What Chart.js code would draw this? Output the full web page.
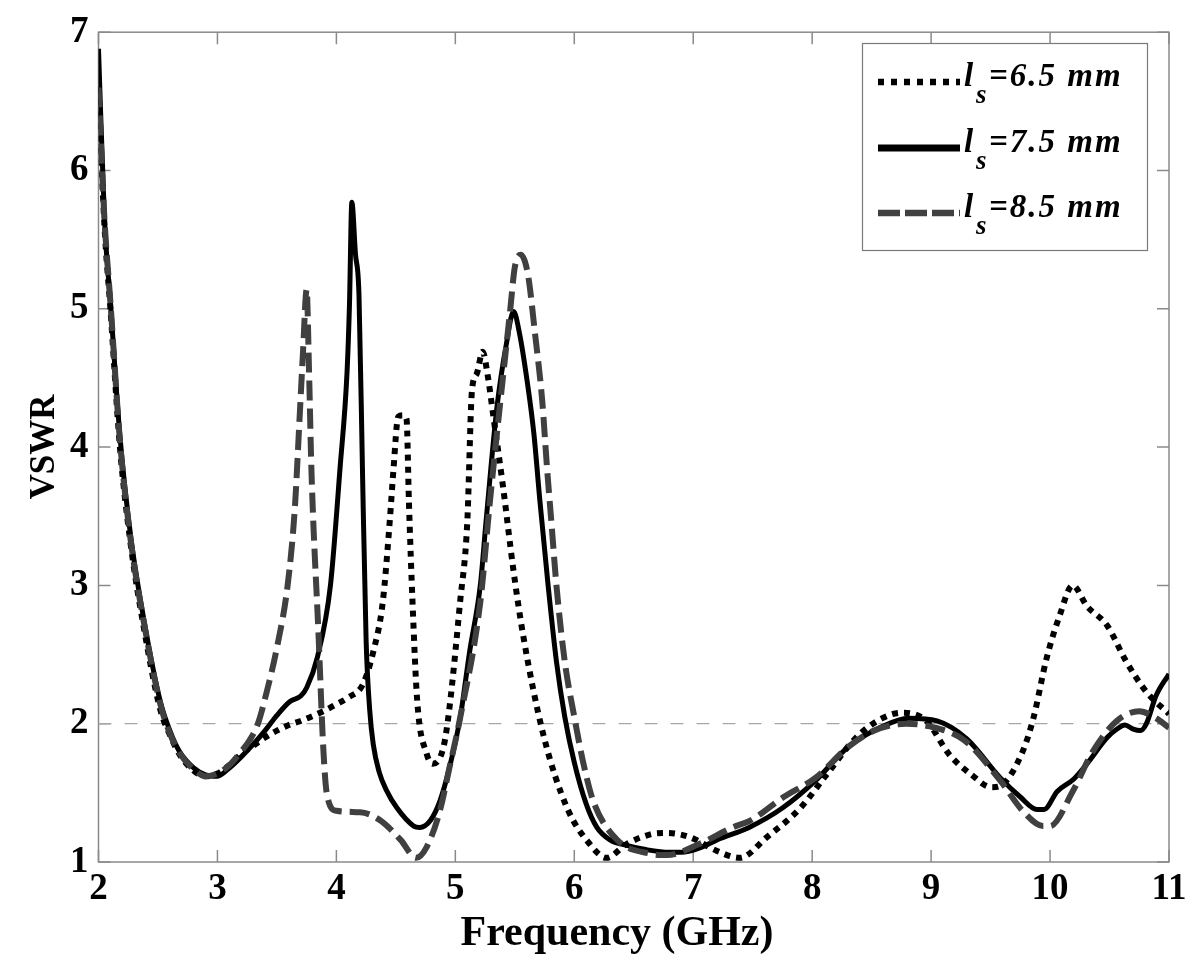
<!DOCTYPE html>
<html><head><meta charset="utf-8">
<script src="https://cdn.jsdelivr.net/npm/chart.js@4/dist/chart.umd.min.js"></script>
<style>html,body{margin:0;padding:0;background:#fff;}</style>
</head><body>
<canvas id="c" width="1200" height="976"></canvas>
<script>
// ---- data ----
const freq65 = [2.0,2.05,2.1,2.18,2.27,2.38,2.52,2.6,2.68,2.8,2.9,3.0,3.1,3.2,3.3,3.4,3.5,3.6,3.7,3.89,4.0,4.1,4.22,4.31,4.39,4.45,4.48,4.52,4.56,4.59,4.61,4.64,4.68,4.76,4.81,4.9,4.95,5.04,5.1,5.14,5.18,5.23,5.27,5.32,5.4,5.49,5.57,5.74,5.94,6.13,6.27,6.44,6.64,6.78,6.97,7.2,7.39,7.62,7.9,8.12,8.37,8.59,8.76,8.96,9.15,9.34,9.51,9.6,9.77,9.86,9.97,10.08,10.19,10.31,10.48,10.64,10.81,11.0];
const vswr65 = [6.6,5.6,5.0,4.0,3.3,2.7,2.1,1.92,1.78,1.66,1.62,1.64,1.7,1.78,1.84,1.9,1.95,1.99,2.02,2.09,2.14,2.19,2.28,2.52,2.88,3.48,3.84,4.22,4.23,4.2,3.6,2.88,2.16,1.78,1.71,1.83,2.11,2.88,3.45,4.41,4.53,4.69,4.53,4.22,3.72,3.1,2.64,1.92,1.39,1.13,1.03,1.13,1.2,1.21,1.18,1.08,1.03,1.18,1.39,1.63,1.9,2.04,2.08,2.02,1.78,1.63,1.54,1.56,1.8,2.04,2.47,2.78,3.0,2.85,2.71,2.45,2.23,2.07];

const freq75 = [2.0,2.05,2.1,2.18,2.27,2.38,2.52,2.6,2.68,2.8,2.9,3.0,3.1,3.2,3.3,3.4,3.5,3.61,3.7,3.75,3.84,3.95,4.03,4.09,4.11,4.13,4.16,4.19,4.22,4.25,4.28,4.31,4.36,4.42,4.51,4.65,4.7,4.79,4.87,4.95,5.04,5.12,5.21,5.26,5.35,5.43,5.49,5.54,5.61,5.66,5.71,5.78,5.85,5.92,6.0,6.1,6.19,6.3,6.44,6.6,6.8,6.9,7.05,7.2,7.47,7.75,8.03,8.3,8.59,8.81,9.05,9.3,9.58,9.75,9.89,9.95,10.06,10.2,10.31,10.48,10.56,10.63,10.7,10.76,10.81,10.89,11.0];
const vswr75 = [6.88,5.65,5.05,4.08,3.36,2.76,2.16,1.95,1.8,1.68,1.63,1.62,1.68,1.76,1.85,1.95,2.06,2.16,2.2,2.26,2.48,3.0,3.84,4.55,5.03,5.77,5.4,5.1,3.8,2.6,2.1,1.85,1.65,1.52,1.39,1.26,1.25,1.3,1.44,1.68,2.04,2.52,3.0,3.48,4.29,4.75,4.98,4.82,4.44,4.1,3.62,3.0,2.45,2.05,1.72,1.42,1.25,1.16,1.12,1.09,1.07,1.07,1.1,1.16,1.25,1.39,1.59,1.83,1.98,2.04,2.02,1.89,1.61,1.47,1.38,1.38,1.51,1.6,1.71,1.9,1.96,1.99,1.96,1.95,2.0,2.2,2.36];

const freq85 = [2.0,2.05,2.1,2.18,2.27,2.38,2.52,2.6,2.68,2.8,2.9,3.0,3.1,3.2,3.27,3.34,3.42,3.5,3.59,3.65,3.69,3.72,3.75,3.77,3.79,3.85,3.89,3.92,4.0,4.2,4.37,4.54,4.67,4.76,4.87,4.95,5.04,5.21,5.29,5.35,5.46,5.5,5.55,5.61,5.67,5.73,5.77,5.81,5.85,5.92,6.0,6.08,6.16,6.36,6.64,6.78,7.05,7.33,7.48,7.76,8.03,8.3,8.52,8.79,8.99,9.28,9.58,9.77,9.94,10.0,10.19,10.36,10.56,10.75,10.89,11.0];
const vswr85 = [6.6,5.65,5.05,4.05,3.33,2.74,2.14,1.93,1.79,1.67,1.62,1.64,1.7,1.8,1.88,2.0,2.25,2.55,3.0,3.55,4.2,4.7,5.14,4.55,3.84,2.64,1.82,1.49,1.37,1.36,1.3,1.16,1.03,1.11,1.37,1.68,2.04,2.88,3.6,4.1,4.98,5.3,5.39,5.25,4.82,4.34,3.86,3.43,3.0,2.45,2.05,1.7,1.44,1.16,1.06,1.05,1.13,1.25,1.3,1.47,1.61,1.83,1.95,2.0,1.98,1.88,1.59,1.37,1.26,1.26,1.51,1.8,2.02,2.09,2.04,1.97];

const refFreq = [2, 11];
const refVswr = [2, 2];

const xTicks = [2,3,4,5,6,7,8,9,10,11];
const yTicks = [1,2,3,4,5,6,7];
const seriesNames = ['6.5', '7.5', '8.5'];
const xTitle = 'Frequency (GHz)';

const pts = (xs, ys) => xs.map((x, i) => ({x, y: ys[i]}));
const SERIF = "'Liberation Serif', 'Times New Roman', serif";

const frameColor = '#8a8a8a';

const framePlugin = {
  id: 'frame',
  beforeDatasetsDraw(chart) {
    const {ctx, chartArea: a, scales} = chart;
    ctx.save();
    ctx.strokeStyle = frameColor;
    ctx.lineWidth = 1.5;
    ctx.beginPath();
    scales.x.ticks.forEach(t => {
      const px = scales.x.getPixelForValue(t.value);
      ctx.moveTo(px, a.bottom); ctx.lineTo(px, a.bottom - 12);
      ctx.moveTo(px, a.top); ctx.lineTo(px, a.top + 12);
    });
    scales.y.ticks.forEach(t => {
      const py = scales.y.getPixelForValue(t.value);
      ctx.moveTo(a.left, py); ctx.lineTo(a.left + 12, py);
      ctx.moveTo(a.right, py); ctx.lineTo(a.right - 12, py);
    });
    ctx.stroke();
    ctx.strokeRect(a.left, a.top, a.right - a.left, a.bottom - a.top);
    ctx.restore();
  },
  afterDraw(chart) {
    const {ctx} = chart;
    const ds = chart.data.datasets;
    ctx.save();
    // x-axis title
    ctx.fillStyle = '#000';
    ctx.font = `bold 42px ${SERIF}`;
    ctx.textAlign = 'center';
    ctx.textBaseline = 'alphabetic';
    ctx.fillText(xTitle, 617, 945);
    // legend
    const bx = 862.5, by = 43.5, bw = 285, bh = 207;
    ctx.fillStyle = '#fff';
    ctx.fillRect(bx, by, bw, bh);
    ctx.strokeStyle = '#7a7a7a';
    ctx.lineWidth = 1.2;
    ctx.strokeRect(bx, by, bw, bh);
    const rows = [82, 148, 213];
    for (let i = 0; i < 3; i++) {
      const d = ds[i];
      const y = rows[i];
      ctx.save();
      ctx.strokeStyle = d.borderColor;
      ctx.lineWidth = d.legendWidth;
      ctx.setLineDash(d.legendDash);
      ctx.lineCap = 'butt';
      ctx.beginPath();
      ctx.moveTo(878, y); ctx.lineTo(960, y);
      ctx.stroke();
      ctx.restore();
      ctx.fillStyle = '#000';
      ctx.textBaseline = 'alphabetic';
      ctx.textAlign = 'left';
      ctx.font = `italic bold 33px ${SERIF}`;
      ctx.fillText('l', 964, y + 4);
      ctx.font = `italic bold 27px ${SERIF}`;
      ctx.fillText('s', 976, y + 21);
      ctx.font = `italic bold 33px ${SERIF}`;
      ctx.letterSpacing = '2px';
      ctx.fillText('=' + seriesNames[i] + ' mm', 989, y + 4);
      ctx.letterSpacing = '0px';
    }
    ctx.restore();
  }
};

const chart = new Chart(document.getElementById('c'), {
  type: 'line',
  data: {
    datasets: [
      { label: 'ls=6.5 mm', data: pts(freq65, vswr65), borderColor: '#000', borderWidth: 6,
        borderDash: [6, 6], borderCapStyle: 'butt', legendWidth: 6.5, legendDash: [6, 7], order: 3 },
      { label: 'ls=7.5 mm', data: pts(freq75, vswr75), borderColor: '#000', borderWidth: 5,
        legendWidth: 7, legendDash: [], order: 2 },
      { label: 'ls=8.5 mm', data: pts(freq85, vswr85), borderColor: '#404040', borderWidth: 6,
        borderDash: [20, 8], borderCapStyle: 'butt', legendWidth: 6.5, legendDash: [22, 5], order: 1 },
      { label: 'ref', data: pts(refFreq, refVswr), borderColor: '#a8a8a8', borderWidth: 1.3,
        borderDash: [13, 13], order: 4 }
    ]
  },
  options: {
    responsive: false,
    animation: false,
    devicePixelRatio: 1,
    elements: { point: { radius: 0 }, line: { cubicInterpolationMode: 'monotone', fill: false } },
    layout: { padding: { top: 27, right: 31, left: 0, bottom: 0 } },
    plugins: { legend: { display: false }, tooltip: { enabled: false } },
    scales: {
      x: {
        type: 'linear', min: 2, max: 11,
        afterBuildTicks: s => { s.ticks = xTicks.map(v => ({value: v})); },
        ticks: { color: '#000', font: { family: SERIF, size: 37, weight: 'bold' }, padding: 5, maxRotation: 0, autoSkip: false },
        grid: { display: false, drawTicks: false },
        border: { display: false },
        title: { display: false },
        afterFit: s => { s.height = 114; }
      },
      y: {
        type: 'linear', min: 1, max: 7,
        afterBuildTicks: s => { s.ticks = yTicks.map(v => ({value: v})); },
        ticks: { color: '#000', font: { family: SERIF, size: 37, weight: 'bold' }, padding: 10, autoSkip: false },
        grid: { display: false, drawTicks: false },
        border: { display: false },
        title: { display: true, text: 'VSWR', color: '#000',
                 font: { family: SERIF, size: 35, weight: 'bold' }, padding: { top: 24, bottom: 0 } },
        afterFit: s => { s.width = 98.5; }
      }
    }
  },
  plugins: [framePlugin]
});
</script>
</body></html>
